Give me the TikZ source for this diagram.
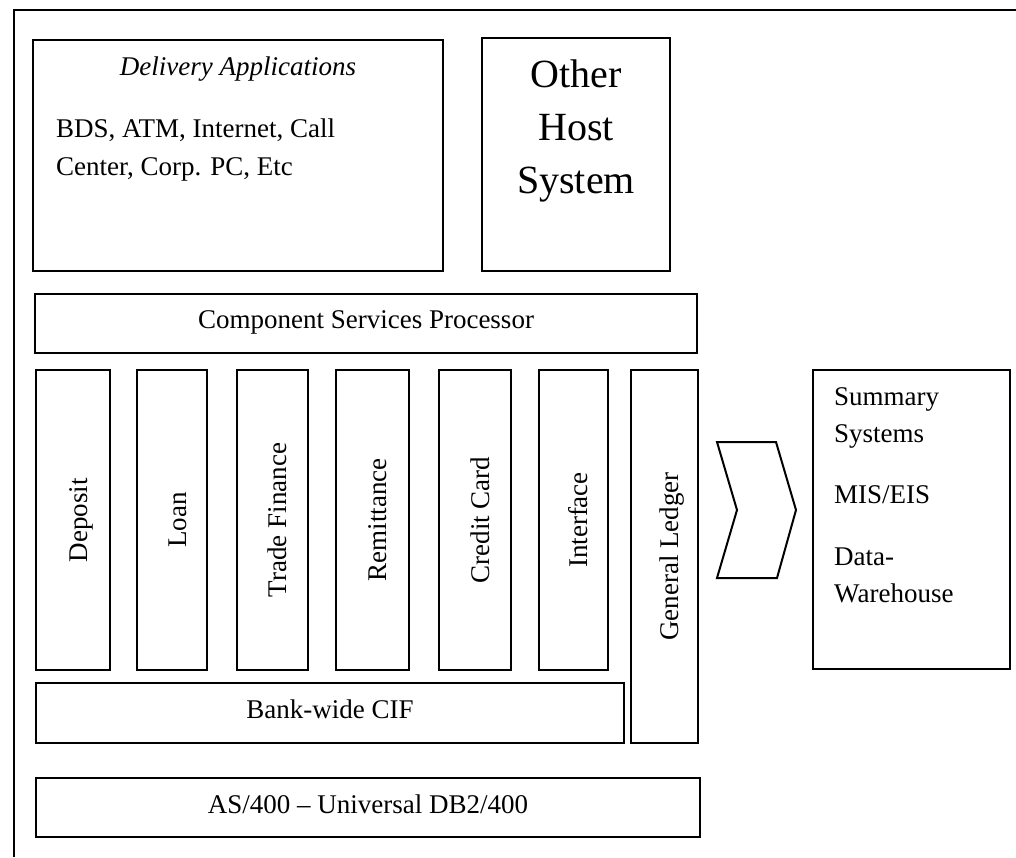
\documentclass[tikz,border=0pt]{standalone}
\usepackage{fontspec}
\setmainfont{Liberation Serif}
\usetikzlibrary{calc}

% rectangle node given by its name and its top-left / bottom-right corners
\newcommand\layerbox[5]{%
  \node[box, anchor=north west,
        minimum width={(#4-#2)*1pt}, minimum height={(#5-#3)*1pt}] (#1) at (#2,#3) {};}
% vertical module label, baseline shifted right of the column centre
\newcommand\collabel[3]{%
  \node[lbl, rotate=90, anchor=base] (#1) at ($(#2.center)+(14,0)$) {#3};}

\tikzset{
  box/.style={draw, line width=2pt, inner sep=0pt, outer sep=0pt},
  lbl/.style={font=\fontsize{27}{32}\selectfont, inner sep=0pt},
  big/.style={font=\fontsize{40}{53}\selectfont, inner sep=0pt},
}

\begin{document}
\begin{tikzpicture}[x=1pt, y=-1pt]
\useasboundingbox (0,0) rectangle (1016,857);

% outer frame (left and top edges)
\coordinate (frameBL) at (14,857);
\coordinate (frameTL) at (14,10);
\coordinate (frameTR) at (1016,10);
\draw[line width=2pt] (frameBL) -- (frameTL) -- (frameTR);

% top row
\layerbox{deliv}{33}{40}{443}{271}
\layerbox{other}{482}{38}{670}{271}
\node[lbl, font=\fontsize{27}{32}\selectfont\itshape, anchor=base] (delivT)
  at ($(deliv.north)+(0,35)$) {Delivery Applications};
\node[lbl, anchor=base west] (delivA) at ($(deliv.north west)+(23,97)$) {BDS, ATM, Internet, Call};
\node[lbl, anchor=base west] (delivB) at ($(deliv.north west)+(23,135)$) {Center, Corp. PC, Etc};
\node[big, anchor=base] (otherA) at ($(other.north)+(0,49)$) {Other};
\node[big, anchor=base] (otherB) at ($(other.north)+(0,102)$) {Host};
\node[big, anchor=base] (otherC) at ($(other.north)+(0,155)$) {System};

% services layer
\layerbox{csp}{35}{294}{697}{353}
\node[lbl, anchor=base] (cspT) at ($(csp.center)+(0,4.5)$) {Component Services Processor};

% application modules
\layerbox{dep}{36}{370}{110}{670}
\layerbox{loan}{137}{370}{207}{670}
\layerbox{trade}{237}{370}{308}{670}
\layerbox{remit}{336}{370}{409}{670}
\layerbox{credit}{439}{370}{511}{670}
\layerbox{iface}{539}{370}{608}{670}
\layerbox{gl}{631}{370}{698}{743}
\collabel{depT}{dep}{Deposit}
\collabel{loanT}{loan}{Loan}
\collabel{tradeT}{trade}{Trade Finance}
\collabel{remitT}{remit}{Remittance}
\collabel{creditT}{credit}{Credit Card}
\collabel{ifaceT}{iface}{Interface}
\collabel{glT}{gl}{General Ledger}

% customer information and database layers
\layerbox{cif}{36}{683}{624}{743}
\node[lbl, anchor=base] (cifT) at ($(cif.center)+(0,5)$) {Bank-wide CIF};
\layerbox{db}{36}{778}{700}{837}
\node[lbl, anchor=base] (dbT) at ($(db.center)+(0,5.5)$) {AS/400 -- Universal DB2/400};

% summary systems
\layerbox{summ}{813}{370}{1010}{669}
\node[lbl, anchor=base west] (summA) at ($(summ.north west)+(21,35)$) {Summary};
\node[lbl, anchor=base west] (summB) at ($(summ.north west)+(21,72)$) {Systems};
\node[lbl, anchor=base west] (summC) at ($(summ.north west)+(21,133)$) {MIS/EIS};
\node[lbl, anchor=base west] (summD) at ($(summ.north west)+(21,195)$) {Data-};
\node[lbl, anchor=base west] (summE) at ($(summ.north west)+(21,232)$) {Warehouse};

% chevron between the ledger and the summary systems
\coordinate (chA) at (717,442);
\coordinate (chB) at (776,442);
\coordinate (chC) at (796,510);
\coordinate (chD) at (777,578);
\coordinate (chE) at (717,578);
\coordinate (chF) at (737,510);
\draw[line width=2pt, line join=miter] (chA) -- (chB) -- (chC) -- (chD) -- (chE) -- (chF) -- cycle;
\end{tikzpicture}
\end{document}
